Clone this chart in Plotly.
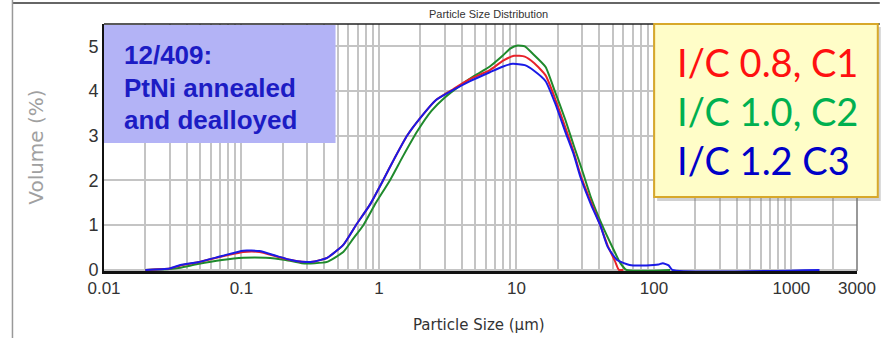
import numpy as np
import plotly.graph_objects as go

# Particle size distributions (volume %) for three ionomer/carbon ratios
size_c1 = [0.02, 0.03, 0.036, 0.048, 0.072, 0.103, 0.135, 0.18, 0.23, 0.275, 0.34, 0.42,
           0.55, 0.68, 0.86, 1.07, 1.3, 1.6, 2.0, 2.6, 3.5, 4.6, 6.4, 8.0, 9.6, 11.5,
           13.5, 16.3, 19, 22.6, 26, 29.4, 35, 40.7, 46, 52, 55.6, 60]
vol_c1 = [0.0, 0.03, 0.10, 0.17, 0.30, 0.40, 0.40, 0.30, 0.22, 0.18, 0.19, 0.27,
          0.56, 1.0, 1.46, 2.0, 2.5, 3.0, 3.4, 3.8, 4.05, 4.27, 4.47, 4.68, 4.79, 4.77,
          4.62, 4.35, 3.85, 3.2, 2.65, 2.1, 1.5, 1.0, 0.55, 0.2, 0.0, 0.0]

size_c2 = [0.02, 0.03, 0.036, 0.048, 0.072, 0.103, 0.15, 0.21, 0.275, 0.34, 0.42, 0.55,
           0.65, 0.77, 0.95, 1.2, 1.5, 1.9, 2.4, 3.0, 4.0, 5.0, 6.4, 8.0, 9.0, 10.2,
           11.5, 13, 16.3, 19, 22.6, 26, 29.9, 35, 42, 50, 57, 63, 131]
vol_c2 = [0.0, 0.02, 0.05, 0.13, 0.22, 0.27, 0.27, 0.22, 0.15, 0.15, 0.18, 0.40,
          0.70, 1.0, 1.5, 2.0, 2.55, 3.1, 3.55, 3.85, 4.15, 4.35, 4.55, 4.8, 4.95, 5.02,
          5.0, 4.85, 4.54, 4.0, 3.37, 2.8, 2.25, 1.6, 1.0, 0.5, 0.15, 0.0, 0.0]

size_c3 = [0.02, 0.03, 0.036, 0.048, 0.072, 0.103, 0.135, 0.18, 0.23, 0.275, 0.34, 0.42,
           0.55, 0.68, 0.86, 1.07, 1.3, 1.6, 2.0, 2.6, 3.5, 4.6, 6.4, 8.0, 9.4, 11.5,
           13.5, 16.3, 19, 22.6, 26, 29.4, 35, 40.7, 46, 54, 66.5, 88, 108, 116, 128,
           136, 1600]
vol_c3 = [0.0, 0.03, 0.11, 0.17, 0.31, 0.43, 0.42, 0.31, 0.22, 0.18, 0.19, 0.27,
          0.56, 1.0, 1.46, 2.0, 2.5, 3.0, 3.4, 3.8, 4.03, 4.22, 4.42, 4.55, 4.61, 4.58,
          4.45, 4.22, 3.75, 3.1, 2.6, 2.05, 1.45, 1.0, 0.52, 0.22, 0.11, 0.10, 0.12,
          0.15, 0.10, 0.0, 0.0]

x_tick_vals = [0.01, 0.1, 1, 10, 100, 1000, 3000]
x_tick_text = ["0.01", "0.1", "1", "10", "100", "1000", "3000"]
y_tick_vals = [0, 1, 2, 3, 4, 5]

legend_lines = ["I/C 0.8, C1", "I/C 1.0, C2", "I/C 1.2 C3"]
legend_colors = ["#ff1010", "#00b050", "#0000c8"]
sample_lines = ["12/409:", "PtNi annealed", "and dealloyed"]

W, H = 888, 338
L, R, T, B = 104, 865, 24, 271


def px(xp):
    return (xp - L) / (R - L)


def py(yp):
    return (B - yp) / (B - T)


fig = go.Figure()
for xs, ys, col, name in [(size_c2, vol_c2, "#1f8a2c", "C2"),
                          (size_c1, vol_c1, "#e8222a", "C1"),
                          (size_c3, vol_c3, "#1a1ae6", "C3")]:
    fig.add_trace(go.Scatter(x=xs, y=ys, mode="lines", name=name,
                             line=dict(color=col, width=2, shape="spline", smoothing=0.5)))

grid = "#c4c4c4"
fig.update_xaxes(type="log", range=[np.log10(0.01), np.log10(3000)],
                 tickvals=x_tick_vals, ticktext=x_tick_text,
                 showgrid=True, gridcolor=grid, gridwidth=1.5,
                 minor=dict(dtick="D1", showgrid=True, gridcolor=grid, gridwidth=1.5),
                 showline=True, linecolor="#111", linewidth=2.5,
                 ticks="", zeroline=False, layer="below traces",
                 tickfont=dict(family="Liberation Sans", size=17, color="#333"))
fig.update_yaxes(range=[-0.025, 5.5], tickvals=y_tick_vals,
                 showgrid=True, gridcolor=grid, gridwidth=1.5,
                 showline=True, linecolor="#111", linewidth=2,
                 ticks="", zeroline=False, layer="below traces",
                 tickfont=dict(family="Liberation Sans", size=18, color="#333"))


def rect(x0, x1, y0, y1, **kw):
    return dict(type="rect", xref="paper", yref="paper",
                x0=px(x0), x1=px(x1), y0=py(y0), y1=py(y1), **kw)


def seg(x0, x1, y0, y1, color, width):
    return dict(type="line", xref="paper", yref="paper",
                x0=px(x0), x1=px(x1), y0=py(y0), y1=py(y1),
                line=dict(color=color, width=width))


shapes = [
    # window frame lines
    seg(11, 888, 3, 3, "#333", 1.5),
    seg(11.5, 11.5, 0, 338, "#999", 1.5),
    seg(104, 888, 24, 24, "#222", 1.5),
    seg(865, 865, 24, 271, "#777", 1.5),
    # sample label box
    rect(104, 338, 25, 143, fillcolor="#b3b3f6", line=dict(width=0), layer="above"),
    # legend box shadow and box
    rect(663, 889, 27, 201, fillcolor="rgba(120,120,120,0.35)", line=dict(width=0),
         layer="above"),
    rect(660, 886, 24, 197, fillcolor="#fffdc8", line=dict(color="#d8a82a", width=2),
         layer="above"),
]


def note(text, x, y, size, color, family, xanchor="center", **kw):
    return dict(text=text, x=px(x), y=py(y), xref="paper", yref="paper",
                xanchor=xanchor, yanchor="middle", showarrow=False,
                font=dict(family=family, size=size, color=color), **kw)


annotations = [
    note("Particle Size Distribution", 493, 14, 11, "#333", "Liberation Sans"),
    note("Particle Size (µm)", 483, 325, 15, "#333", "DejaVu Sans"),
    note("Volume (%)", 35, 147, 20, "#a0a0a0", "DejaVu Sans", textangle=-90),
]
for i, s in enumerate(sample_lines):
    annotations.append(note("<b>%s</b>" % s, 122, 55 + 32.5 * i, 26, "#1c1cc4",
                            "Liberation Sans", xanchor="left"))
for i, (s, c) in enumerate(zip(legend_lines, legend_colors)):
    annotations.append(note(s, 681, 62 + 49 * i, 38, c, "Lato", xanchor="left"))

fig.update_layout(width=W, height=H, margin=dict(l=L, r=W - R, t=T, b=H - B),
                  paper_bgcolor="white", plot_bgcolor="white", showlegend=False,
                  shapes=shapes, annotations=annotations)
fig.write_html("out.html")
